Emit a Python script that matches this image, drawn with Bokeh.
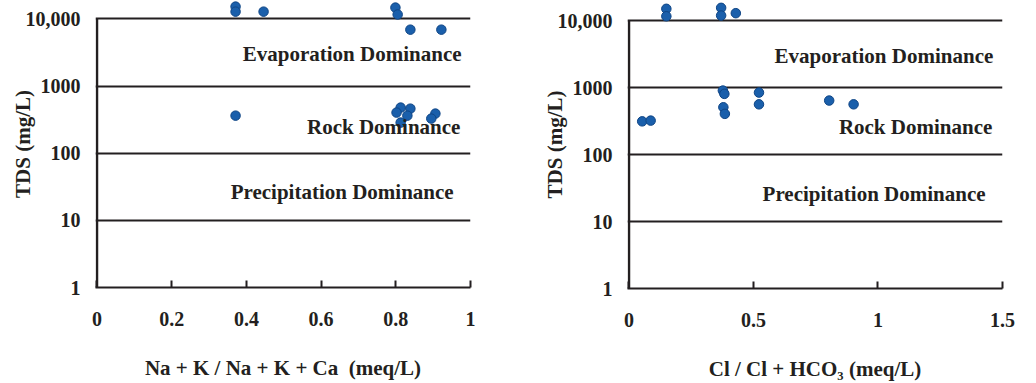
from bokeh.plotting import figure
from bokeh.layouts import row
from bokeh.models import Range1d, FixedTicker, Label
from bokeh.embed import file_html
from bokeh.resources import INLINE

# ---- data ----
left_x = [0.371, 0.371, 0.446, 0.799, 0.805, 0.839, 0.922, 0.371,
          0.813, 0.839, 0.802, 0.831, 0.813, 0.906, 0.895]
left_tds = [15200, 12800, 12800, 14700, 11600, 6900, 6900, 362,
            477, 460, 402, 362, 285, 388, 327]

right_x = [0.150, 0.150, 0.370, 0.370, 0.429, 0.377, 0.383, 0.522,
           0.522, 0.379, 0.385, 0.804, 0.902, 0.053, 0.087]
right_tds = [15000, 11600, 15500, 11900, 12900, 902, 805, 842,
             562, 508, 405, 640, 562, 313, 321]

y_tick_values = [1, 10, 100, 1000, 10000]
y_tick_labels = ["1", "10", "100", "1000", "10,000"]
left_x_ticks = [0, 0.2, 0.4, 0.6, 0.8, 1]
left_x_labels = ["0", "0.2", "0.4", "0.6", "0.8", "1"]
right_x_ticks = [0, 0.5, 1, 1.5]
right_x_labels = ["0", "0.5", "1", "1.5"]

zones = ["Evaporation Dominance", "Rock Dominance", "Precipitation Dominance"]

FONT = "Liberation Serif"
INK = "#231f20"
DOT = "#1a5fab"
DOT_EDGE = "#0f4585"


def make_panel(xs, ys, x_ticks, x_labels, x_title, x_pad, y_top, border_left,
               border_right, frame_h, zone_pos):
    p = figure(width=518, height=383, frame_width=375, frame_height=frame_h,
               y_axis_type="log",
               x_range=Range1d(x_ticks[0] - x_pad, x_ticks[-1]),
               y_range=Range1d(y_tick_values[0], y_top),
               output_backend="svg", toolbar_location=None,
               min_border_left=border_left, min_border_right=border_right,
               min_border_top=0, min_border_bottom=383 - frame_h)
    p.outline_line_color = None
    p.background_fill_color = "white"
    p.border_fill_color = "white"

    # grid lines (decade boundaries)
    p.xgrid.visible = False
    p.ygrid.ticker = FixedTicker(ticks=y_tick_values[1:])
    p.ygrid.grid_line_color = INK
    p.ygrid.grid_line_width = 2

    # y axis
    ya = p.yaxis[0]
    ya.ticker = FixedTicker(ticks=y_tick_values)
    ya.major_label_overrides = {v: l for v, l in zip(y_tick_values, y_tick_labels)}
    ya.axis_line_color = None
    ya.major_tick_line_color = None
    ya.minor_tick_line_color = None
    ya.major_label_standoff = 9
    ya.major_label_text_font = FONT
    ya.major_label_text_font_style = "bold"
    ya.major_label_text_font_size = "20px"
    ya.major_label_text_color = INK
    ya.axis_label = "TDS (mg/L)"
    ya.axis_label_text_font = FONT
    ya.axis_label_text_font_style = "bold"
    ya.axis_label_text_font_size = "21px"
    ya.axis_label_text_color = INK
    ya.axis_label_standoff = -12

    # x axis
    xa = p.xaxis[0]
    xa.ticker = FixedTicker(ticks=x_ticks)
    xa.major_label_overrides = {v: l for v, l in zip(x_ticks, x_labels)}
    xa.axis_line_color = INK
    xa.axis_line_width = 2
    xa.major_tick_line_color = INK
    xa.major_tick_line_width = 2
    xa.major_tick_in = 7
    xa.major_tick_out = 0
    xa.minor_tick_line_color = None
    xa.major_label_standoff = 24
    xa.major_label_text_font = FONT
    xa.major_label_text_font_style = "bold"
    xa.major_label_text_font_size = "20px"
    xa.major_label_text_color = INK
    xa.axis_label = x_title
    xa.axis_label_text_font = FONT
    xa.axis_label_text_font_style = "bold"
    xa.axis_label_text_font_size = "21px"
    xa.axis_label_text_color = INK
    xa.axis_label_standoff = 27

    # left vertical axis line from 1 to 10,000
    p.line(x=[x_ticks[0], x_ticks[0]], y=[y_tick_values[0], y_tick_values[-1]],
           line_color=INK, line_width=2.5)

    # zone labels
    for name, (zx, zy) in zip(zones, zone_pos):
        p.add_layout(Label(x=zx, y=zy, text=name, text_align="right",
                           text_baseline="middle", text_font=FONT,
                           text_font_style="bold", text_font_size="21px",
                           text_color=INK))

    p.scatter(xs, ys, size=9.5, fill_color=DOT, line_color=DOT_EDGE,
              line_width=1)
    return p


p1 = make_panel(left_x, left_tds, left_x_ticks, left_x_labels,
                "Na + K / Na + K + Ca\u00a0 (meq/L)", 0.004, 10 ** 4.273,
                95, 48, 287,
                [(0.976, 3040), (0.973, 248), (0.955, 26.7)])
p2 = make_panel(right_x, right_tds, right_x_ticks, right_x_labels,
                "Cl / Cl + HCO\u2083 (meq/L)", 0.006, 10 ** 4.30,
                109, 34, 288,
                [(1.463, 3010), (1.459, 261), (1.432, 25.8)])

layout = row(p1, p2)
open("out.html", "w").write(file_html(layout, INLINE))
